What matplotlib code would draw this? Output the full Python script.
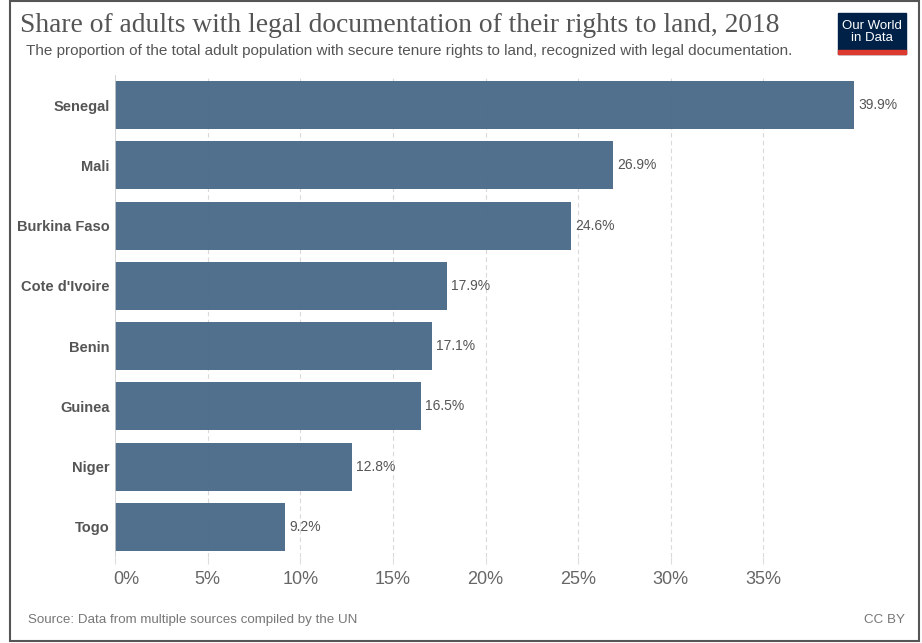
import matplotlib
matplotlib.use("Agg")
import matplotlib.pyplot as plt
from matplotlib.patches import Rectangle
from matplotlib.transforms import offset_copy

countries = ["Senegal", "Mali", "Burkina Faso", "Cote d'Ivoire", "Benin", "Guinea", "Niger", "Togo"]
shares = [39.9, 26.9, 24.6, 17.9, 17.1, 16.5, 12.8, 9.2]
tick_values = [0, 5, 10, 15, 20, 25, 30, 35]
tick_labels = ["0%", "5%", "10%", "15%", "20%", "25%", "30%", "35%"]

W, H = 922, 643
fig = plt.figure(figsize=(W / 100, H / 100), dpi=100, facecolor="white")
ax = fig.add_axes([115 / W, 1 - 557 / H, (856 - 115) / W, (557 - 75) / H])

ypos = list(range(len(countries)))
ax.barh(ypos, shares, height=0.8, color="#4b6b89", alpha=0.97, zorder=2)
for y, v in zip(ypos, shares):
    ax.annotate(f"{v}%", (v, y), xytext=(3, 0), textcoords="offset points",
                va="center", ha="left", fontsize=10, color="#555555",
                family="Liberation Sans")

ax.set_xlim(0, 40)
ax.set_ylim(len(countries) - 0.5, -0.5)
ax.set_yticks(ypos)
ax.set_yticklabels(countries, fontsize=10.5, fontweight="bold", color="#555555",
                   family="Liberation Sans")
ax.tick_params(axis="y", length=0, pad=4)

ax.set_xticks(tick_values)
ax.set_xticklabels(tick_labels, fontsize=13, color="#666666", family="Liberation Sans")
ax.tick_params(axis="x", length=5, color="#dddddd", pad=5)
# shift the 0% label right like the original
lab0 = ax.get_xticklabels()[0]
lab0.set_transform(offset_copy(lab0.get_transform(), fig=fig, x=11, units="dots"))

for x in tick_values[1:]:
    ax.axvline(x, color="#d9d9d9", lw=0.8, ls=(0, (4, 3)), zorder=1)
ax.axvline(0, color="#cccccc", lw=1.2, zorder=3)

for s in ax.spines.values():
    s.set_visible(False)

fig.text(20 / W, 1 - 25 / H, "Share of adults with legal documentation of their rights to land, 2018",
         fontsize=19.8, color="#555555", family="Liberation Serif", va="center")
fig.text(26 / W, 1 - 51 / H,
         "The proportion of the total adult population with secure tenure rights to land, recognized with legal documentation.",
         fontsize=11, color="#555555", family="Liberation Sans", va="center")
fig.text(28 / W, 1 - 620 / H, "Source: Data from multiple sources compiled by the UN",
         fontsize=9.6, color="#777777", family="Liberation Sans", va="center")
fig.text(905 / W, 1 - 620 / H, "CC BY", fontsize=9.6, color="#777777",
         family="Liberation Sans", va="center", ha="right")

# logo
fig.patches.append(Rectangle((838 / W, 1 - 54 / H), 68 / W, 41 / H,
                             transform=fig.transFigure, color="#002147", zorder=5))
fig.patches.append(Rectangle((838 / W, 1 - 54 / H), 68 / W, 4 / H,
                             transform=fig.transFigure, color="#dc3a2e", zorder=6))
fig.text(872 / W, 1 - 32 / H, "Our World\nin Data", fontsize=9.5, color="white",
         family="Liberation Sans", ha="center", va="center", linespacing=1.0, zorder=7)

# frame
fig.patches.append(Rectangle((10 / W, 2 / H), 909 / W, 640 / H, transform=fig.transFigure,
                             fill=False, edgecolor="#555555", lw=1.5))

fig.savefig("out.png", dpi=100, facecolor="white")
